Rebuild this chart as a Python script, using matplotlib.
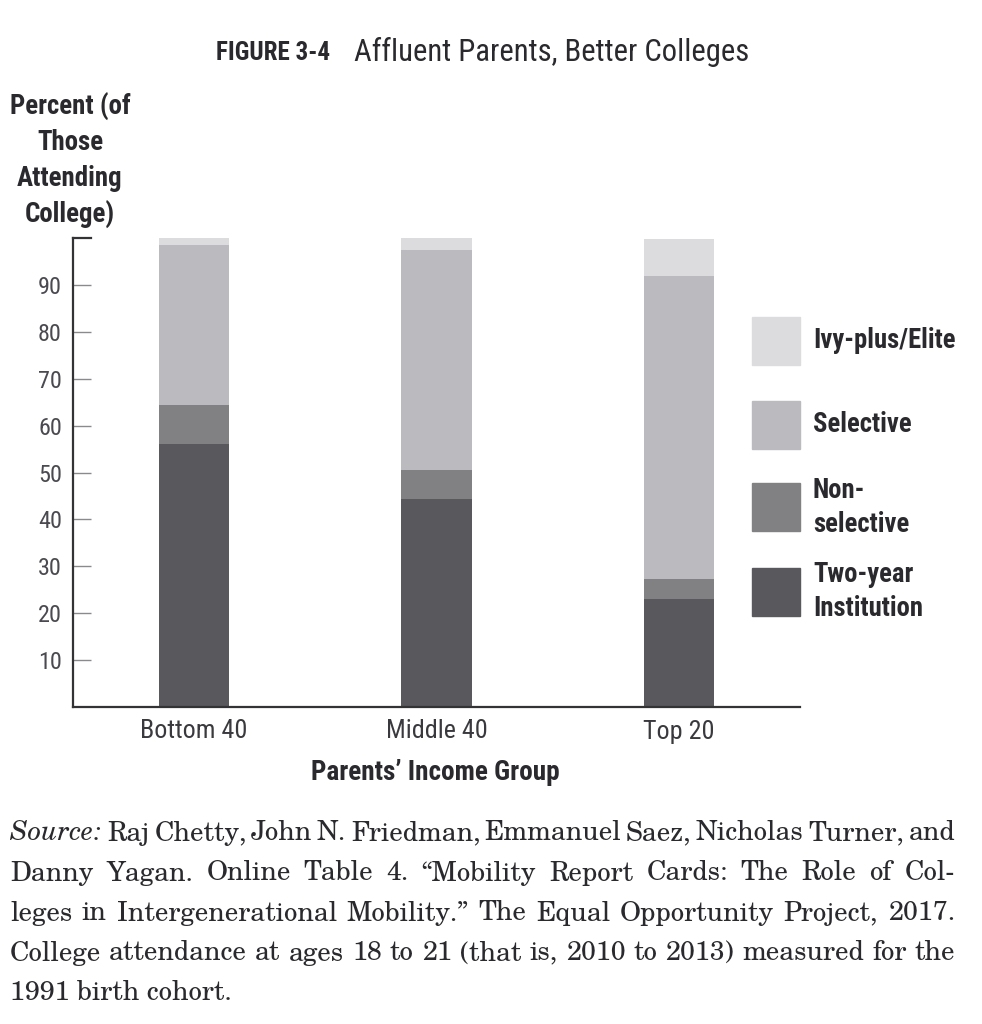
import matplotlib
matplotlib.use('Agg')
import matplotlib.pyplot as plt
from matplotlib import font_manager
from matplotlib.patches import Rectangle
import numpy as np

# data (percent of those attending college)
groups = ['Bottom 40', 'Middle 40', 'Top 20']
two_year = [56.0, 44.4, 23.1]
non_selective = [8.4, 6.2, 4.1]
selective = [34.1, 46.8, 64.7]
ivy_plus = [1.5, 2.6, 7.8]

series_names = ['Two-year\nInstitution', 'Non-\nselective', 'Selective', 'Ivy-plus/Elite']
series_colors = ['#59595d', '#818184', '#bbbbbf', '#dcdcdf']
y_ticks = [10, 20, 30, 40, 50, 60, 70, 80, 90]

source_lines = [
    "Raj Chetty, John N. Friedman, Emmanuel Saez, Nicholas Turner, and",
    "Danny Yagan. Online Table 4. \u201cMobility Report Cards: The Role of Col-",
    "leges in Intergenerational Mobility.\u201d The Equal Opportunity Project, 2017.",
    "College attendance at ages 18 to 21 (that is, 2010 to 2013) measured for the",
    "1991 birth cohort.",
]

installed = {f.name for f in font_manager.fontManager.ttflist}


def pick(cands):
    for c in cands:
        if c in installed:
            return c
    return cands[-1]


narrow = pick(['Roboto Condensed', 'Archivo Narrow', 'PT Sans Narrow', 'Liberation Sans Narrow',
               'Oswald', 'DejaVu Sans'])
serif = pick(['C059', 'TeX Gyre Schola', 'Century Schoolbook L', 'Old Standard TT',
              'Liberation Serif', 'DejaVu Serif'])
ink = '#2a2a2e'

W, H = 982, 1024
fig = plt.figure(figsize=(W / 100, H / 100), dpi=100)
fig.patch.set_facecolor('white')
renderer = fig.canvas.get_renderer()


def fx(px):
    return px / W


def fy(py):
    return 1 - py / H


def fit(texts, ref, width_px):
    # scale font size of a group of texts so that ref gets width_px wide
    w = ref.get_window_extent(renderer).width
    k = width_px / w
    for t in texts:
        t.set_fontsize(t.get_fontsize() * k)


ax = fig.add_axes([fx(73), fy(707), fx(800) - fx(73), fy(238) - fy(707)])

x = np.arange(len(groups))
stack = [two_year, non_selective, selective, ivy_plus]
bottom = np.zeros(len(groups))
for vals, name, col in zip(stack, series_names, series_colors):
    ax.bar(x, vals, width=0.29, bottom=bottom, color=col, label=name, zorder=2)
    bottom += np.array(vals)

ax.set_xlim(-0.5, 2.5)
ax.set_ylim(0, 100)
ax.spines['top'].set_visible(False)
ax.spines['right'].set_visible(False)
for s in ['left', 'bottom']:
    ax.spines[s].set_color('#333336')
    ax.spines[s].set_linewidth(1.6)

ax.set_yticks(y_ticks)
ax.set_yticklabels([str(t) for t in y_ticks], fontfamily=narrow, fontsize=17, color='#4a4a50')
ax.tick_params(axis='y', direction='in', length=13, width=1.0, color='#8a8a8e', pad=8)
# heavier tick at the top of the axis
ax.plot([0, 18 / 727], [1, 1], transform=ax.transAxes, color='#333336', lw=1.6, clip_on=False)

ax.set_xticks(x)
ax.set_xticklabels(groups, fontfamily=narrow, fontsize=18, color='#3a3a3e')
ax.tick_params(axis='x', length=0, pad=9)

fig.canvas.draw()
ylabs = ax.get_yticklabels()
fit(ylabs, ylabs[-1], 24)
xlabs = ax.get_xticklabels()
fit(xlabs, xlabs[0], 107)

# title
t1 = fig.text(fx(330), fy(53), 'FIGURE 3-4', fontfamily=narrow, fontweight='bold', fontsize=15,
              color=ink, ha='right', va='center')
fit([t1], t1, 115)
t2 = fig.text(fx(354), fy(52), 'Affluent Parents, Better Colleges', fontfamily=narrow,
              fontsize=24, color=ink, ha='left', va='center')
fit([t2], t2, 395)

# y axis title
ylab_lines = ['Percent (of', 'Those', 'Attending', 'College)']
yl = [fig.text(fx(70), fy(107 + 36 * i), s, fontfamily=narrow, fontweight='bold', fontsize=19,
               color=ink, ha='center', va='center') for i, s in enumerate(ylab_lines)]
fit(yl, yl[0], 121)

# x axis title
xt = fig.text(fx(435), fy(772), 'Parents\u2019 Income Group', fontfamily=narrow, fontweight='bold',
              fontsize=19, color=ink, ha='center', va='center')
fit([xt], xt, 249)

# legend, top to bottom
legend_rows = [(341, 3), (425, 2), (507, 1), (592, 0)]
leg_texts = []
for cy, i in legend_rows:
    fig.add_artist(Rectangle((fx(752), fy(cy + 24)), fx(48), 48 / H,
                             transform=fig.transFigure, color=series_colors[i]))
    parts = series_names[i].split('\n')
    offs = [0] if len(parts) == 1 else [-17, 17]
    for p, o in zip(parts, offs):
        leg_texts.append(fig.text(fx(813), fy(cy + o), p, fontfamily=narrow, fontweight='bold',
                                  fontsize=19, color=ink, ha='left', va='center'))
fit(leg_texts, leg_texts[0], 142)

# source note, justified like the printed page
line_y = [833, 873, 913, 953, 993]
probe = fig.text(0, 0, source_lines[3], fontfamily=serif, fontsize=17)
fit([probe], probe, 938)
src_size = probe.get_fontsize()
probe.remove()


def justify(line, x_left, x_right, y):
    words = line.split(' ')
    arts = [fig.text(0, fy(y), w, fontfamily=serif, fontsize=src_size, color=ink,
                     ha='left', va='center') for w in words]
    widths = [a.get_window_extent(renderer).width for a in arts]
    gap = (x_right - x_left - sum(widths)) / max(len(words) - 1, 1)
    pos = x_left
    for a, w in zip(arts, widths):
        a.set_x(fx(pos))
        pos += w + gap


src = fig.text(fx(10), fy(line_y[0]), 'Source:', fontfamily=serif, fontstyle='italic',
               fontsize=src_size, color=ink, ha='left', va='center')
sw = src.get_window_extent(renderer).width
justify(source_lines[0], 10 + sw + 7, 955, line_y[0])
for ly, txt in zip(line_y[1:4], source_lines[1:4]):
    justify(txt, 10, 955, ly)
fig.text(fx(10), fy(line_y[4]), source_lines[4], fontfamily=serif, fontsize=src_size,
         color=ink, ha='left', va='center')

fig.savefig('out.png', dpi=100, facecolor='white')
